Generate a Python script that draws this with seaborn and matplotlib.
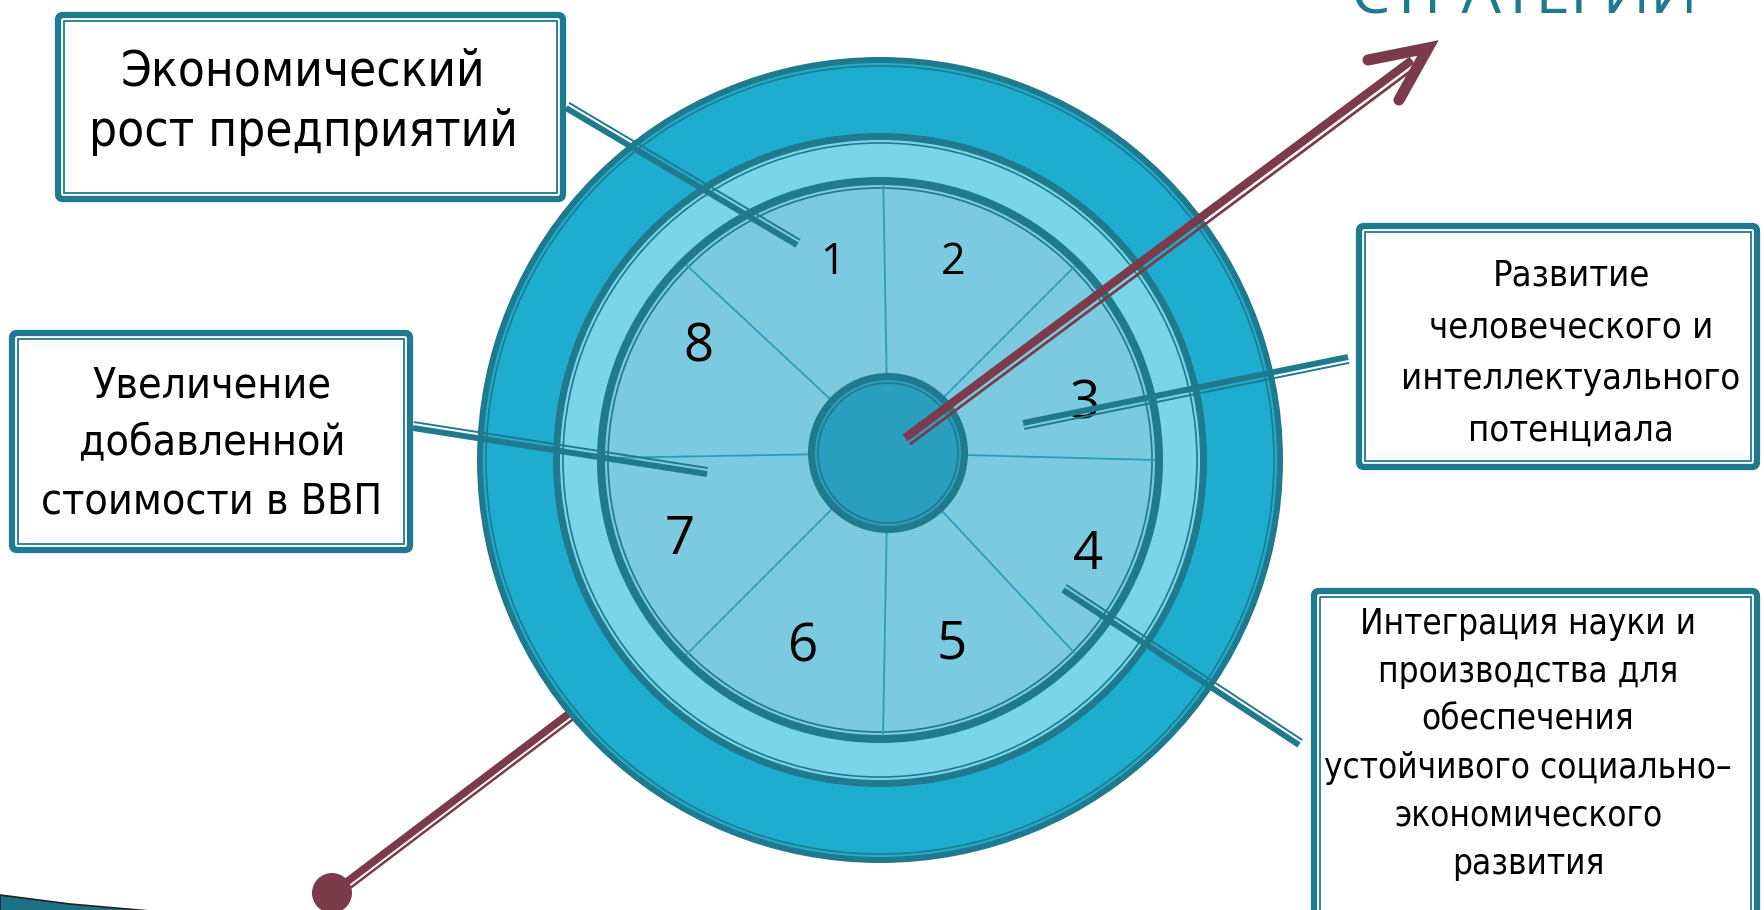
import numpy as np
import pandas as pd
import matplotlib
matplotlib.use("Agg")
import matplotlib.pyplot as plt
import matplotlib.patches as mpatches
from matplotlib import font_manager
import seaborn as sns

# segment numbers and where they sit (pixel coords of the slide)
seg_numbers = ["1", "2", "3", "4", "5", "6", "7", "8"]
seg_x = [832, 953, 1085, 1088, 952, 803, 680, 698]
seg_y = [263, 263, 405, 555, 645, 648, 540, 348]
seg_size = [31, 31, 38, 38, 38, 38, 38, 38]

# spoke directions, degrees counter-clockwise from east
spoke_angles = [45, 91, 137, 181, 225, 269, 313, 358.5]

box_texts = [
    ["Экономический", "рост предприятий"],
    ["Увеличение", "добавленной", "стоимости в ВВП"],
    ["Развитие", "человеческого и", "интеллектуального", "потенциала"],
    ["Интеграция науки и", "производства для", "обеспечения",
     "устойчивого социально–", "экономического", "развития"],
]
title_text = "СТРАТЕГИИ"

# colours
DARK = "#1f7a8e"
RING_OUT = "#1fadcf"
RING_MID = "#78d5ea"
SEG = "#7bcae0"
HUB = "#2a9fbd"
SPOKE = "#2b9dbc"
MAROON = "#7b3b4b"

sns.set_theme(style="white")
plt.rcParams["font.family"] = ["Open Sans", "DejaVu Sans"]

# a narrow face for the box captions, if the system has one
narrow_fp = None
for f in font_manager.fontManager.ttflist:
    tag = (f.name + " " + str(f.stretch)).lower()
    if ("narrow" in tag or "condensed" in tag) and f.style == "normal" \
            and f.weight in (400, "normal", "regular", "book"):
        narrow_fp = f.fname
        break
if narrow_fp:
    box_font = dict(fontproperties=font_manager.FontProperties(fname=narrow_fp))
    size_k = 0.93
else:
    box_font = dict(family=["Roboto", "DejaVu Sans"])
    size_k = 0.86

fig = plt.figure(figsize=(17.65, 9.1), dpi=100)
ax = fig.add_axes([0, 0, 1, 1])

cx, cy = 880, 460      # wheel centre
hx, hy = 888, 453      # hub centre


def double_line(p0, p1, normal_sign, color, lw_thick, lw_thin, off, z):
    p0 = np.array(p0, float)
    p1 = np.array(p1, float)
    d = (p1 - p0) / np.linalg.norm(p1 - p0)
    n = np.array([d[1], -d[0]]) * normal_sign
    ax.plot([p0[0], p1[0]], [p0[1], p1[1]], color=color, lw=lw_thick,
            solid_capstyle="butt", zorder=z)
    q0, q1 = p0 + n * off, p1 + n * off
    ax.plot([q0[0], q1[0]], [q0[1], q1[1]], color=color, lw=lw_thin,
            solid_capstyle="butt", zorder=z)


# lower-left maroon stick with the ball (under the wheel)
double_line((575, 709), (340, 887), 1, MAROON, 5.5, 1.8, 7, 1)
dot = pd.DataFrame({"x": [332], "y": [893]})
sns.scatterplot(data=dot, x="x", y="y", s=830, color=MAROON, edgecolor="none",
                ax=ax, zorder=2, legend=False)
ax.set_xlim(0, 1765)
ax.set_ylim(910, 0)
ax.set_xlabel("")
ax.set_ylabel("")
ax.axis("off")

# corner swoosh, mostly off the slide
ax.add_patch(mpatches.Polygon([(0, 895), (70, 904), (150, 911), (0, 911)],
                              closed=True, facecolor="#1d7184",
                              edgecolor="#222222", lw=1.2, zorder=1))

# rings: (outer radius, band width, fill)
rings = [(403, 6, RING_OUT), (327, 7, RING_MID), (283, 8, SEG)]
z = 3
for r, band, fill in rings:
    ax.add_patch(mpatches.Circle((cx, cy), r, facecolor=DARK, edgecolor="none", zorder=z))
    ax.add_patch(mpatches.Circle((cx, cy), r - band, facecolor=fill, edgecolor="none", zorder=z + 0.1))
    ax.add_patch(mpatches.Circle((cx, cy), r - band - 3, facecolor="none",
                                 edgecolor=DARK, lw=1.2, zorder=z + 0.2))
    z += 1

# spokes from hub edge to the inner ring edge
for a in spoke_angles:
    t = np.deg2rad(a)
    u = np.array([np.cos(t), -np.sin(t)])
    w = np.array([hx - cx, hy - cy], float)
    b = w @ u
    L = -b + np.sqrt(b * b - (w @ w - 275 ** 2))
    ax.plot([hx + 78 * u[0], hx + L * u[0]], [hy + 78 * u[1], hy + L * u[1]],
            color=SPOKE, lw=1.3, zorder=7)

# hub
ax.add_patch(mpatches.Circle((hx, hy), 80, facecolor=DARK, edgecolor="none", zorder=8))
ax.add_patch(mpatches.Circle((hx, hy), 73, facecolor=HUB, edgecolor="none", zorder=8.1))
ax.add_patch(mpatches.Circle((hx, hy), 70, facecolor="none", edgecolor=DARK, lw=1.2, zorder=8.2))

# numbers
for s, x, y, fs in zip(seg_numbers, seg_x, seg_y, seg_size):
    ax.text(x, y, s, fontsize=fs, ha="center", va="center", color="black", zorder=9)

# connectors from boxes into the wheel
double_line((566, 108), (797, 245), 1, DARK, 4.3, 1.4, 6, 10)
double_line((413, 428), (707, 474), 1, DARK, 4.3, 1.4, 6, 10)
double_line((1023, 423), (1348, 357), -1, DARK, 4.3, 1.4, 6, 10)
double_line((1063, 590), (1299, 745), 1, DARK, 4.3, 1.4, 6, 10)

# maroon arrow through the hub
double_line((905, 438), (1412, 60), -1, MAROON, 6, 2, 8, 11)
ax.plot([1368, 1428, 1399], [60, 48, 100], color=MAROON, lw=8,
        solid_capstyle="round", solid_joinstyle="miter", zorder=11)

# boxes
boxes = [
    dict(x0=55, y0=12, x1=566, y1=202, tx=303, ty=71, dy=61, fs=38),
    dict(x0=9, y0=330, x1=413, y1=553, tx=212, ty=385, dy=58, fs=33),
    dict(x0=1356, y0=223, x1=1760, y1=470, tx=1571, ty=275, dy=52, fs=28),
    dict(x0=1311, y0=588, x1=1760, y1=940, tx=1528, ty=624, dy=48, fs=27),
]
for b, lines in zip(boxes, box_texts):
    ax.add_patch(mpatches.FancyBboxPatch(
        (b["x0"] + 3, b["y0"] + 3), b["x1"] - b["x0"] - 6, b["y1"] - b["y0"] - 6,
        boxstyle="round,pad=0,rounding_size=5", facecolor="white",
        edgecolor=DARK, lw=4.5, zorder=12))
    ax.add_patch(mpatches.Rectangle(
        (b["x0"] + 9, b["y0"] + 9), b["x1"] - b["x0"] - 18, b["y1"] - b["y0"] - 18,
        facecolor="none", edgecolor=DARK, lw=1.3, zorder=12.1))
    for i, line in enumerate(lines):
        ax.text(b["tx"], b["ty"] + i * b["dy"], line, fontsize=b["fs"] * size_k,
                ha="center", va="center", color="black", zorder=13, **box_font)

# title cut off by the top edge
ax.text(1350, 13, title_text, fontsize=45, ha="left", va="baseline",
        color="#207a8e", zorder=13)

fig.savefig("out.png", dpi=100)
